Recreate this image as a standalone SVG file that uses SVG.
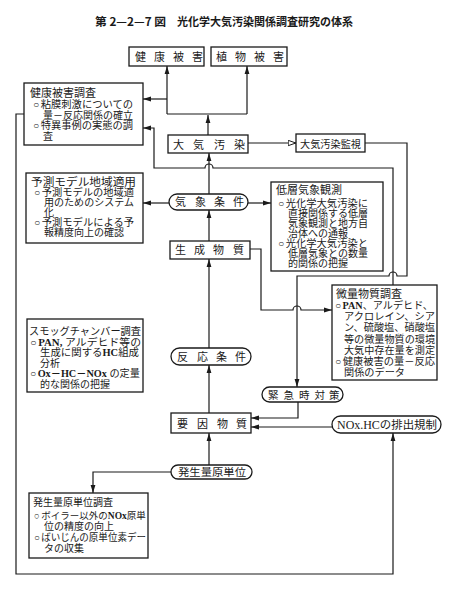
<svg xmlns="http://www.w3.org/2000/svg" width="454" height="590" viewBox="0 0 454 590">
<style>
.bx{fill:#fff;stroke:#1a1a1a;stroke-width:1.3}
.ln{fill:none;stroke:#1a1a1a;stroke-width:1.2}
.t{font-family:"Liberation Serif","Noto Sans CJK JP",serif;font-size:10px;fill:#1a1a1a}
.h{font-size:11px}
.lab{font-family:"Noto Sans CJK JP",sans-serif;font-size:11px;fill:#1a1a1a}
.b{font-weight:bold}
.ttl{font-family:"Noto Sans CJK JP",sans-serif;font-size:11.5px;font-weight:bold;fill:#1a1a1a}
</style>
<defs>
<marker id="a" viewBox="0 0 8 6" refX="8" refY="3" markerWidth="8" markerHeight="6" markerUnits="userSpaceOnUse" orient="auto"><path d="M0,0.6 L8,3 L0,5.4 z" fill="#1a1a1a"/></marker>
<marker id="o" viewBox="0 0 9 7" refX="8.5" refY="3.5" markerWidth="9" markerHeight="7" markerUnits="userSpaceOnUse" orient="auto"><path d="M0.7,0.8 L8.3,3.5 L0.7,6.2 z" fill="#fff" stroke="#1a1a1a" stroke-width="1"/></marker>
</defs>
<rect width="454" height="590" fill="#fff"/>
<g id="title">
<text class="ttl" y="26"><tspan x="95" textLength="71" lengthAdjust="spacingAndGlyphs">第 2—2—7 図</tspan><tspan x="177" textLength="176" lengthAdjust="spacingAndGlyphs">光化学大気汚染関係調査研究の体系</tspan></text>
</g>
<g id="connectors">
<path class="ln" d="M208,135 V115" marker-end="url(#a)"/>
<path class="ln" d="M167,114 H247"/>
<path class="ln" d="M167,114 V66" marker-end="url(#a)"/>
<path class="ln" d="M247,114 V66" marker-end="url(#a)"/>
<path class="ln" d="M167,99 H143" marker-end="url(#a)"/>
<path class="ln" d="M248,143 H296" marker-end="url(#o)"/>
<path class="ln" d="M365,143 H407 V276 H397 A4,4 0 0 0 389,276 H297 V387" marker-end="url(#a)"/>
<path class="ln" d="M250,249 H261 V310 H293 A4,4 0 0 1 301,310 H332" marker-end="url(#a)"/>
<path class="ln" d="M393,285 V168 H213 A4,4 0 0 0 205,168 H154 V128 H143" marker-end="url(#a)"/>
<path class="ln" d="M209,194 V153" marker-end="url(#a)"/>
<path class="ln" d="M169,203 H143" marker-end="url(#a)"/>
<path class="ln" d="M248,203 H271" marker-end="url(#a)"/>
<path class="ln" d="M209,241 V210" marker-end="url(#a)"/>
<path class="ln" d="M209,348 V259" marker-end="url(#a)"/>
<path class="ln" d="M209,413 V365" marker-end="url(#a)"/>
<path class="ln" d="M298,402 V418 H251" marker-end="url(#a)"/>
<path class="ln" d="M332,427 H251" marker-end="url(#a)"/>
<path class="ln" d="M209,465 V433" marker-end="url(#a)"/>
<path class="ln" d="M171,472 H93 V493" marker-end="url(#a)"/>
<path class="ln" d="M24,114 H16 V574 H393 V433" marker-end="url(#a)"/>
</g>
<g id="kenko-higai">
<rect class="bx" x="129" y="47" width="75" height="19"/>
<text class="lab" x="135 154 173 192" y="61">健康被害</text>
</g>
<g id="shokubutsu-higai">
<rect class="bx" x="211" y="47" width="76" height="19"/>
<text class="lab" x="216 235 254 273" y="61">植物被害</text>
</g>
<g id="kenko-higai-chosa">
<rect class="bx" x="24" y="83" width="119" height="62"/>
<text class="t h" x="30" y="97">健康被害調査</text>
<text class="t" x="33" y="108" textLength="100" lengthAdjust="spacingAndGlyphs">○<tspan dx="1.5">粘膜刺激についての</tspan></text>
<text class="t" x="43" y="118.5" textLength="90" lengthAdjust="spacingAndGlyphs">量－反応関係の確立</text>
<text class="t" x="33" y="129" textLength="100" lengthAdjust="spacingAndGlyphs">○<tspan dx="1.5">特異事例の実態の調</tspan></text>
<text class="t" x="43" y="139.5">査</text>
</g>
<g id="taiki-osen">
<rect class="bx" x="168" y="135" width="80" height="18"/>
<text class="lab" x="173 193 214 234" y="148.5">大気汚染</text>
</g>
<g id="taiki-osen-kanshi">
<rect class="bx" x="296" y="134" width="69" height="18"/>
<text class="lab" x="300" y="147.5" style="font-size:10.5px" textLength="61" lengthAdjust="spacingAndGlyphs">大気汚染監視</text>
</g>
<g id="yosoku-model">
<rect class="bx" x="26" y="173" width="117" height="70"/>
<text class="t h" x="31" y="185.5" textLength="105" lengthAdjust="spacingAndGlyphs">予測モデル地域適用</text>
<text class="t" x="34" y="196" textLength="100" lengthAdjust="spacingAndGlyphs">○<tspan dx="1.5">予測モデルの地域適</tspan></text>
<text class="t" x="44" y="206" textLength="90" lengthAdjust="spacingAndGlyphs">用のためのシステム</text>
<text class="t" x="44" y="216">化</text>
<text class="t" x="34" y="226" textLength="100" lengthAdjust="spacingAndGlyphs">○<tspan dx="1.5">予測モデルによる予</tspan></text>
<text class="t" x="44" y="236" textLength="80" lengthAdjust="spacingAndGlyphs">報精度向上の確認</text>
</g>
<g id="kisho-joken">
<rect class="bx" x="169" y="194" width="79" height="16" rx="8"/>
<text class="lab" x="175 195 214 233" y="206">気象条件</text>
</g>
<g id="teiso-kisho">
<rect class="bx" x="271" y="182" width="112" height="89"/>
<text class="t h" x="276" y="193.5">低層気象観測</text>
<text class="t" x="278" y="207" textLength="90" lengthAdjust="spacingAndGlyphs">○<tspan dx="1.5">光化学大気汚染に</tspan></text>
<text class="t" x="288" y="217" textLength="80" lengthAdjust="spacingAndGlyphs">直接関係する低層</text>
<text class="t" x="288" y="227" textLength="80" lengthAdjust="spacingAndGlyphs">気象観測と地方自</text>
<text class="t" x="288" y="237" textLength="60" lengthAdjust="spacingAndGlyphs">治体への通報</text>
<text class="t" x="278" y="247" textLength="90" lengthAdjust="spacingAndGlyphs">○<tspan dx="1.5">光化学大気汚染と</tspan></text>
<text class="t" x="288" y="257" textLength="80" lengthAdjust="spacingAndGlyphs">低層気象との数量</text>
<text class="t" x="288" y="267" textLength="60" lengthAdjust="spacingAndGlyphs">的関係の把握</text>
</g>
<g id="seisei-busshitsu">
<rect class="bx" x="170" y="241" width="80" height="18"/>
<text class="lab" x="175 194 213 233" y="254">生成物質</text>
</g>
<g id="biryo-busshitsu">
<rect class="bx" x="332" y="285" width="105" height="95"/>
<text class="t h" x="336" y="298">微量物質調査</text>
<text class="t" x="335" y="309" textLength="98" lengthAdjust="spacingAndGlyphs">○<tspan class="b" dx="1.5">PAN</tspan>、アルデヒド、</text>
<text class="t" x="344" y="320" textLength="91" lengthAdjust="spacingAndGlyphs">アクロレイン、シア</text>
<text class="t" x="344" y="331" textLength="91" lengthAdjust="spacingAndGlyphs">ン、硫酸塩、硝酸塩</text>
<text class="t" x="344" y="342.5" textLength="91" lengthAdjust="spacingAndGlyphs">等の微量物質の環境</text>
<text class="t" x="344" y="354" textLength="91" lengthAdjust="spacingAndGlyphs">大気中存在量を測定</text>
<text class="t" x="335" y="365" textLength="100" lengthAdjust="spacingAndGlyphs">○<tspan dx="1.5">健康被害の量－反応</tspan></text>
<text class="t" x="344" y="375.5" textLength="61" lengthAdjust="spacingAndGlyphs">関係のデータ</text>
</g>
<g id="smog-chamber">
<rect class="bx" x="27" y="319" width="116" height="73"/>
<text class="t" x="29" y="334.5" style="font-size:10.4px" textLength="112" lengthAdjust="spacingAndGlyphs">スモッグチャンバー調査</text>
<text class="t" x="30" y="345.5" textLength="111" lengthAdjust="spacingAndGlyphs">○<tspan class="b" dx="1.5">PAN,</tspan> アルデヒド等の</text>
<text class="t" x="40" y="356" textLength="99" lengthAdjust="spacingAndGlyphs">生成に関する<tspan class="b">HC</tspan>組成</text>
<text class="t" x="40" y="366.5">分析</text>
<text class="t" x="30" y="377" textLength="110" lengthAdjust="spacingAndGlyphs">○<tspan class="b" dx="1.5">Ox－HC－NOx</tspan> の定量</text>
<text class="t" x="40" y="387.5" textLength="70" lengthAdjust="spacingAndGlyphs">的な関係の把握</text>
</g>
<g id="hanno-joken">
<rect class="bx" x="171" y="348" width="80" height="17" rx="8.5"/>
<text class="lab" x="177 197 216 235" y="360.5">反応条件</text>
</g>
<g id="kinkyuji-taisaku">
<rect class="bx" x="262" y="387" width="81" height="15" rx="7.5"/>
<text class="lab" x="268 283.5 299 314.5 329" y="398.5" style="font-size:10.5px">緊急時対策</text>
</g>
<g id="yoin-busshitsu">
<rect class="bx" x="171" y="413" width="80" height="20"/>
<text class="lab" x="177 197 217 236" y="427.5">要因物質</text>
</g>
<g id="nox-hc-kisei">
<rect class="bx" x="332" y="416" width="109" height="17" rx="8.5"/>
<text class="lab" x="337" y="428.5" textLength="100" lengthAdjust="spacingAndGlyphs"><tspan style="font-family:'Liberation Serif',serif;font-size:11.5px">NOx.HC</tspan>の排出規制</text>
</g>
<g id="hasseiryo-gen-tani">
<rect class="bx" x="171" y="465" width="81" height="14" rx="7"/>
<text class="lab" x="178" y="476" style="font-size:10.5px" textLength="68" lengthAdjust="spacingAndGlyphs">発生量原単位</text>
</g>
<g id="hasseiryo-chosa">
<rect class="bx" x="29" y="493" width="119" height="65"/>
<text class="t" x="33" y="505.5" style="font-size:10.5px" textLength="80" lengthAdjust="spacingAndGlyphs">発生量原単位調査</text>
<text class="t" x="34" y="518.5" style="font-size:9.5px">○<tspan dx="1.5">ボイラー以外の</tspan><tspan class="b">NOx</tspan>原単</text>
<text class="t" x="44" y="529.5" textLength="70" lengthAdjust="spacingAndGlyphs">位の精度の向上</text>
<text class="t" x="34" y="540.5" textLength="112" lengthAdjust="spacingAndGlyphs">○<tspan dx="1.5">ばいじんの原単位素デー</tspan></text>
<text class="t" x="44" y="551.5" textLength="40" lengthAdjust="spacingAndGlyphs">タの収集</text>
</g>
</svg>
